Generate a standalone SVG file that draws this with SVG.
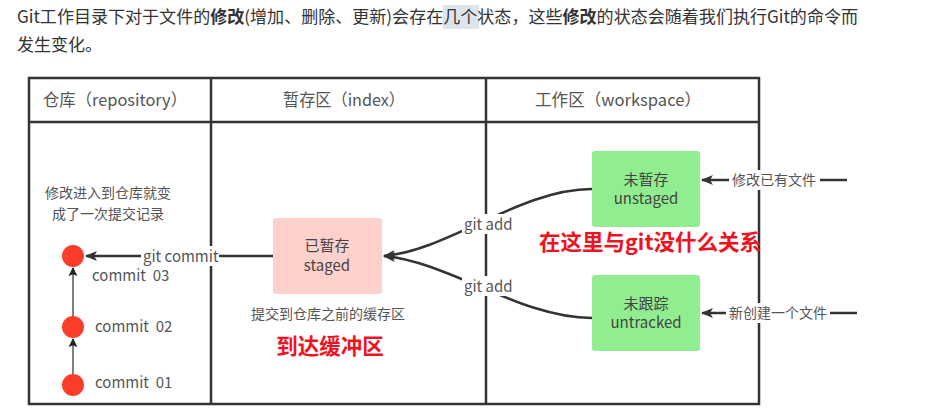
<svg xmlns="http://www.w3.org/2000/svg" width="952" height="413" viewBox="0 0 952 413">
<style>
text{font-family:"Noto Sans CJK SC","Noto Sans",sans-serif;fill:#555}
.p{fill:#333;font-size:17px}
.h{font-size:16.5px;text-anchor:middle}
.n{font-size:15px;text-anchor:middle;fill:#444}
.s{font-size:14px;text-anchor:middle;fill:#555}
.c{font-size:15px;white-space:pre}
.r{font-size:21.5px;font-weight:bold;fill:#f0121e;text-anchor:middle}
.grid{stroke:#333;stroke-width:2.5;fill:none}
.con{stroke:#333;stroke-width:2.5;fill:none}
.thin{stroke:#555;stroke-width:1.5;fill:none}
.lb{fill:#fff}
</style>
<defs>
<marker id="a" viewBox="0 0 12 10" refX="11" refY="5" markerWidth="12" markerHeight="10" markerUnits="userSpaceOnUse" orient="auto">
<path d="M0,0 L12,5 L0,10 L3,5 z" fill="#333"/>
</marker>
<marker id="a2" viewBox="0 0 10 10" refX="9" refY="5" markerWidth="9" markerHeight="10" markerUnits="userSpaceOnUse" orient="auto">
<path d="M0,0 L10,5 L0,10 L2,5 z" fill="#222"/>
</marker>
</defs>
<rect width="952" height="413" fill="#fff"/>
<rect x="443" y="5" width="36" height="24" fill="#dde5ec"/>
<text class="p" x="17" y="23" textLength="841" lengthAdjust="spacingAndGlyphs">Git工作目录下对于文件的<tspan font-weight="bold">修改</tspan>(增加、删除、更新)会存在几个状态，这些<tspan font-weight="bold">修改</tspan>的状态会随着我们执行Git的命令而</text>
<text class="p" x="17" y="51">发生变化。</text>

<g id="table">
<rect class="grid" x="29" y="78" width="730" height="326"/>
<line class="grid" x1="29" y1="122" x2="759" y2="122"/>
<line class="grid" x1="211" y1="78" x2="211" y2="404"/>
<line class="grid" x1="486" y1="78" x2="486" y2="404"/>
<text class="h" x="115" y="106" textLength="144" lengthAdjust="spacingAndGlyphs">仓库（repository）</text>
<text class="h" x="344" y="106" textLength="122" lengthAdjust="spacingAndGlyphs">暂存区（index）</text>
<text class="h" x="618" y="106" textLength="166" lengthAdjust="spacingAndGlyphs">工作区（workspace）</text>
</g>

<g id="connectors">
<line class="con" x1="273" y1="256" x2="86" y2="256" marker-end="url(#a)"/>
<rect class="lb" x="141" y="246" width="78" height="20"/>
<text class="c" x="143" y="262">git commit</text>
<line class="thin" x1="73" y1="374" x2="73" y2="339" marker-end="url(#a2)"/>
<line class="thin" x1="73" y1="316" x2="73" y2="268" marker-end="url(#a2)"/>
<path class="con" d="M592,189 C520,189 450,250 384,256" marker-end="url(#a)"/>
<path class="con" d="M592,318 C520,318 450,262 384,256" marker-end="url(#a)"/>
<rect class="lb" x="462" y="214" width="52" height="20"/>
<text class="c" x="464" y="230">git add</text>
<rect class="lb" x="462" y="276" width="52" height="20"/>
<text class="c" x="464" y="292">git add</text>
<line class="con" x1="847" y1="180" x2="702" y2="180" marker-end="url(#a)"/>
<rect class="lb" x="729" y="170" width="91" height="20"/>
<text class="s" x="774" y="185">修改已有文件</text>
<line class="con" x1="857" y1="313" x2="702" y2="313" marker-end="url(#a)"/>
<rect class="lb" x="726" y="303" width="104" height="20"/>
<text class="s" x="778" y="318">新创建一个文件</text>
</g>

<g id="commit03">
<circle cx="73" cy="256" r="11" fill="#fb3d2a"/>
<text class="c" x="92" y="281">commit  03</text>
</g>
<g id="commit02">
<circle cx="73" cy="327" r="11" fill="#fb3d2a"/>
<text class="c" x="95" y="332">commit  02</text>
</g>
<g id="commit01">
<circle cx="73" cy="385" r="11" fill="#fb3d2a"/>
<text class="c" x="95" y="388">commit  01</text>
</g>
<g id="repo-note">
<text class="s" x="108" y="198">修改进入到仓库就变</text>
<text class="s" x="108" y="219">成了一次提交记录</text>
</g>

<g id="staged">
<rect x="273" y="218" width="109" height="76" rx="3" fill="#ffd0cc"/>
<text class="n" x="327" y="251">已暂存</text>
<text class="n" x="327" y="271">staged</text>
<text class="s" x="328" y="319">提交到仓库之前的缓存区</text>
<text class="r" x="330" y="354">到达缓冲区</text>
</g>

<g id="unstaged">
<rect x="592" y="151" width="108" height="76" rx="3" fill="#90ee90"/>
<text class="n" x="646" y="185">未暂存</text>
<text class="n" x="646" y="204">unstaged</text>
</g>
<g id="untracked">
<rect x="592" y="275" width="108" height="76" rx="3" fill="#90ee90"/>
<text class="n" x="646" y="309">未跟踪</text>
<text class="n" x="646" y="328">untracked</text>
</g>
<text class="r" x="650" y="250">在这里与git没什么关系</text>
</svg>
